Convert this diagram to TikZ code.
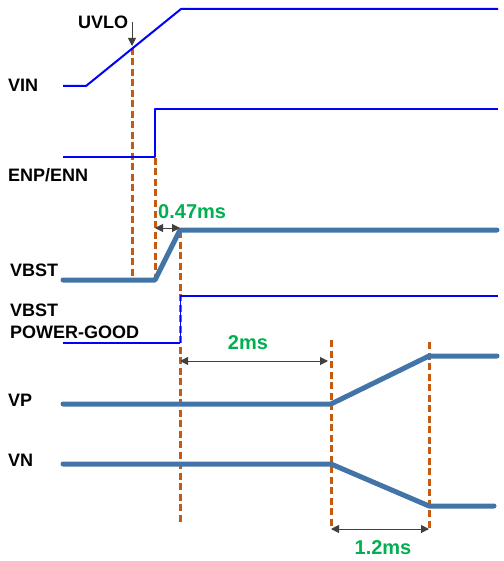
\documentclass[tikz,border=0pt]{standalone}
\usepackage{fontspec}
\setmainfont{Liberation Sans}
\usetikzlibrary{arrows.meta}
\definecolor{sigblue}{RGB}{0,0,255}
\definecolor{railblue}{RGB}{66,116,168}
\definecolor{markorange}{RGB}{197,90,17}
\definecolor{timegreen}{RGB}{0,176,80}
\definecolor{dimgray}{RGB}{64,64,64}
\begin{document}
\begin{tikzpicture}[x=1pt,y=-1pt,>={Triangle[length=8pt,width=8pt]}, line join=round]
	\tikzset{sig/.style={sigblue,line width=2pt},
		rail/.style={railblue,line width=5pt,line cap=round},
		markline/.style={markorange,line width=3pt,dash pattern=on 7pt off 3.5pt},
		dim/.style={dimgray,line width=1pt,<->},
		lbl/.style={font=\fontsize{18}{20}\selectfont\bfseries,inner sep=0pt,anchor=west},
		tlbl/.style={font=\fontsize{20}{22}\selectfont\bfseries,text=timegreen,inner sep=0pt}}
	\useasboundingbox (0,0) rectangle (503,561);
	% time points
	\def\tu{132}
	\def\te{155}
	\def\tb{180}
	\def\tp{331}
	\def\tr{429}
	\def\xs{63}
	\def\xe{498}
	% labels
	\node[lbl] (uvlo) at (78,22) {UVLO};
	\node[lbl] (vin) at (8,85) {VIN};
	\node[lbl] (enp) at (8,175) {ENP/ENN};
	\node[lbl] (vbst) at (10,270) {VBST};
	\node[lbl] (pgA) at (10,310) {VBST};
	\node[lbl] (pgB) at (10,332) {POWER-GOOD};
	\node[lbl] (vp) at (8,400) {VP};
	\node[lbl] (vn) at (8,460) {VN};
	% markers
	\draw[markline] (\tu,48)--(\tu,281);
	\draw[markline] (\te,158)--(\te,281);
	\draw[markline] (\tb,231)--(\tb,525);
	\draw[markline] (\tp,340)--(\tp,527);
	\draw[markline] (\tr,342)--(\tr,529);
	% signals
	\draw[sig] (\xs,86)--(86,86)--(181,9)--(\xe,9);
	\draw[sig] (\xs,157)--(\te,157)--(\te,109)--(\xe,109);
	\draw[sigblue,line width=1pt] (\tb,343)--(\tb,296);
	\draw[sig] (\xs,343)--(\tb,343);
	\draw[sig] (\tb,296)--(\xe,296);
	\draw[rail] (\xs,280)--(\te,280)--(\tb,230)--(497,230);
	\draw[rail] (\xs,404)--(\tp,404)--(\tr,356)--(497,356);
	\draw[rail] (\xs,464)--(\tp,464)--(\tr,506)--(494,506);
	% timing
	\coordinate (uvloA) at (\tu,22);
	\coordinate (uvloB) at (\tu,46);
	\draw[dimgray,line width=1pt,->] (uvloA)--(uvloB);
	\coordinate (enA) at (\te,228);
	\coordinate (enB) at (\tb,228);
	\draw[dim] (enA)--(enB);
	\node[tlbl,anchor=west] (tA) at (158,212) {0.47ms};
	\coordinate (pgS) at (\tb,361);
	\coordinate (pgE) at (328,361);
	\draw[dim] (pgS)--(pgE);
	\node[tlbl] (tB) at (248,343) {2ms};
	\coordinate (rpS) at (\tp,529);
	\coordinate (rpE) at (\tr,529);
	\draw[dim] (rpS)--(rpE);
	\node[tlbl] (tC) at (383,548) {1.2ms};
\end{tikzpicture}
\end{document}
